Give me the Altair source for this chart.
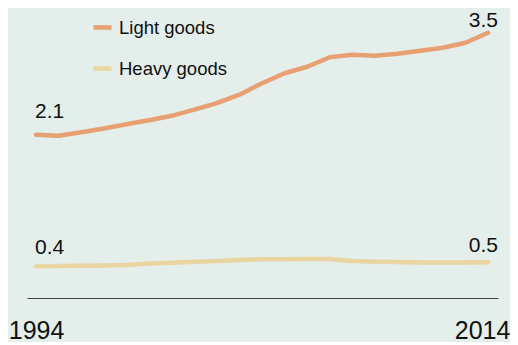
import altair as alt
import pandas as pd

years = list(range(1994, 2015))
light_goods = [2.137, 2.124, 2.170, 2.220, 2.275, 2.327, 2.385, 2.465, 2.550, 2.661,
               2.812, 2.942, 3.027, 3.152, 3.185, 3.171, 3.198, 3.237, 3.276, 3.341, 3.472]
heavy_goods = [0.414, 0.418, 0.421, 0.425, 0.431, 0.452, 0.462, 0.473, 0.484, 0.497,
               0.507, 0.508, 0.509, 0.510, 0.483, 0.475, 0.470, 0.466, 0.465, 0.465, 0.469]
series_names = ["Light goods", "Heavy goods"]
series_colors = ["#e8a072", "#ecd4a0"]
x_ticks = [1994, 2014]

rows = []
for name, vals in zip(series_names, [light_goods, heavy_goods]):
    for y, v in zip(years, vals):
        rows.append({"year": y, "value": v, "series": name})
df = pd.DataFrame(rows)

lab_rows = []
for name, vals in zip(series_names, [light_goods, heavy_goods]):
    lab_rows.append({"year": years[0], "value": vals[0], "series": name, "pos": "start",
                     "text": f"{vals[0]:.1f}"})
    lab_rows.append({"year": years[-1], "value": vals[-1], "series": name, "pos": "end",
                     "text": f"{vals[-1]:.1f}"})
labels = pd.DataFrame(lab_rows)

FONT = "Liberation Sans"
xscale = alt.Scale(domain=[1993.6, 2014.44], nice=False, zero=False)
yscale = alt.Scale(domain=[0, 3.6], nice=False, zero=False)

lines = alt.Chart(df).mark_line(strokeWidth=4.5, strokeCap="round", strokeJoin="round").encode(
    x=alt.X("year:Q", scale=xscale,
            axis=alt.Axis(values=x_ticks, format="d", title=None, grid=False, ticks=False,
                          domainColor="#444444", domainWidth=1.2, labelFontSize=25,
                          labelFont=FONT, labelColor="#111111", labelPadding=20,
                          labelFlush=False, labelOverlap=False,
                          labelOffset={"expr": "datum.value == 2014 ? -6 : 0"})),
    y=alt.Y("value:Q", scale=yscale, axis=None),
    color=alt.Color("series:N", sort=series_names,
                    scale=alt.Scale(domain=series_names, range=series_colors),
                    legend=alt.Legend(title=None, orient="none", legendX=64, legendY=-7,
                                      symbolType="stroke", symbolSize=324,
                                      symbolStrokeWidth=4.5, labelFontSize=18.5,
                                      labelFont=FONT, labelColor="#111111",
                                      labelOffset=5, rowPadding=20, padding=0)),
)

def label_layer(series, pos, align, dx, dy):
    return alt.Chart(labels).transform_filter(
        (alt.datum.series == series) & (alt.datum.pos == pos)
    ).mark_text(align=align, baseline="alphabetic", dx=dx, dy=dy, fontSize=21,
                font=FONT, color="#111111").encode(
        x=alt.X("year:Q", scale=xscale),
        y=alt.Y("value:Q", scale=yscale),
        text="text:N",
    )

chart = alt.layer(
    lines,
    label_layer("Light goods", "start", "left", -1, -16.5),
    label_layer("Heavy goods", "start", "left", -1, -12.7),
    label_layer("Light goods", "end", "right", 10, -6),
    label_layer("Heavy goods", "end", "right", 10, -9.8),
).properties(
    width=471, height=275, background="#e4eeea",
    padding={"left": 19, "top": 15, "right": 12, "bottom": 44},
    autosize=alt.AutoSizeParams(type="none"),
).configure_view(stroke=None)

chart.save("out.html", embed_options={"renderer": "svg", "actions": False})
